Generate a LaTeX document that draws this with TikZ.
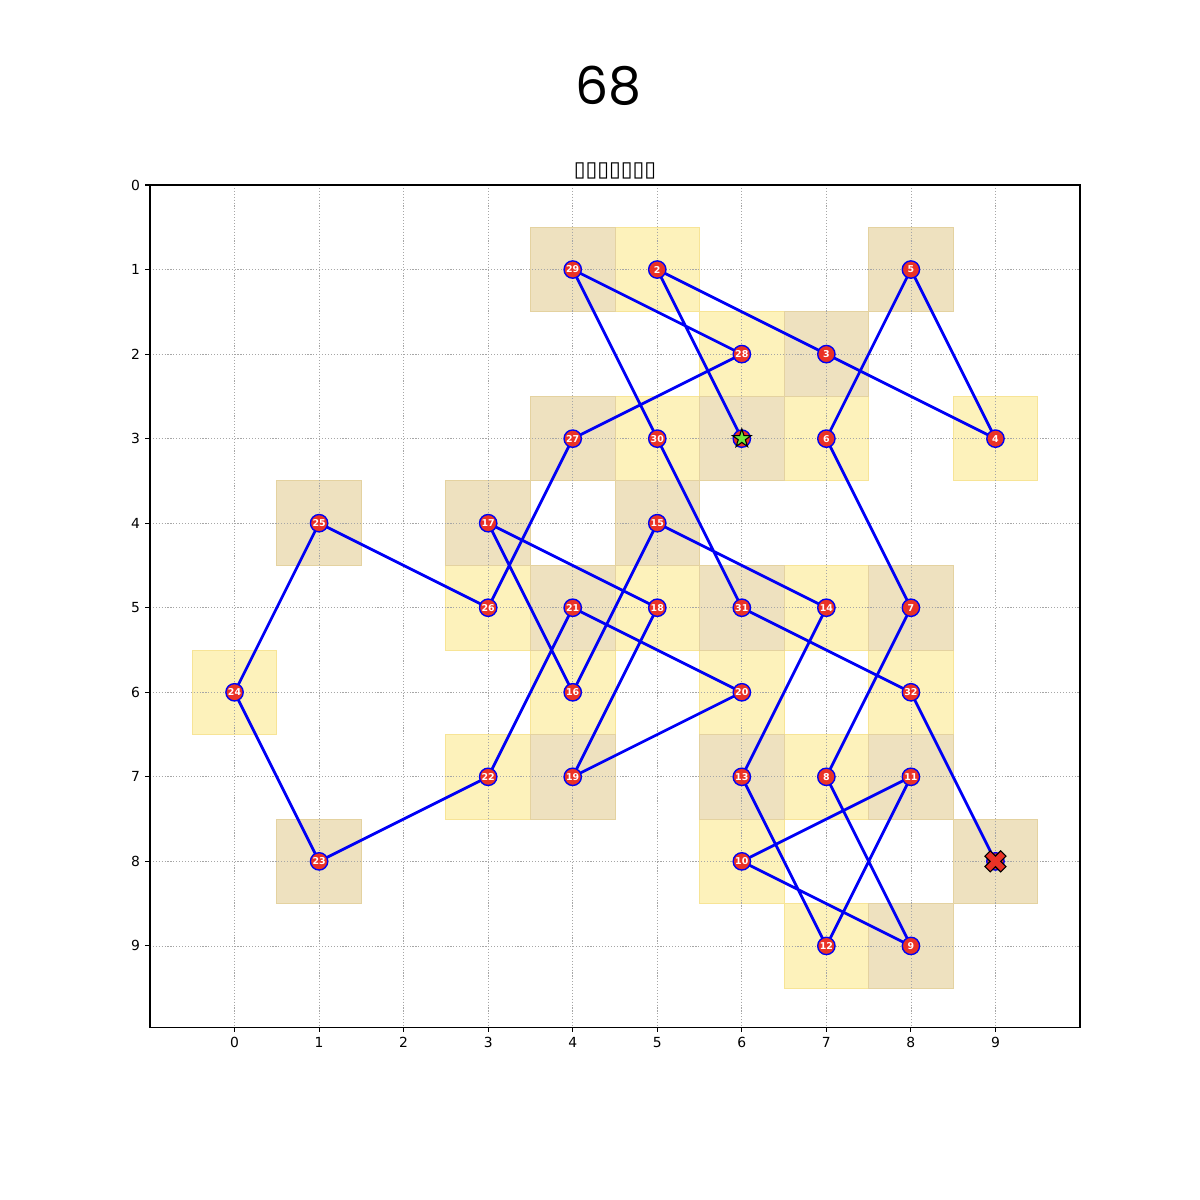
\documentclass[tikz,border=0pt]{standalone}
\usepackage{fontspec}
\setmainfont{DejaVu Sans}
\newfontfamily\titlefont{Poppins}
\usetikzlibrary{shapes.geometric}
\pgfdeclarelayer{cells}
\pgfdeclarelayer{routes}
\pgfsetlayers{cells,routes,main}
\definecolor{ycell}{RGB}{253,242,187}
\definecolor{yedge}{RGB}{247,228,150}
\definecolor{tcell}{RGB}{238,225,191}
\definecolor{tedge}{RGB}{228,210,160}
\definecolor{mred}{RGB}{234,50,38}
\definecolor{mblue}{RGB}{0,0,245}
\definecolor{sgreen}{RGB}{110,232,60}
\begin{document}
\begin{tikzpicture}[x=60.873pt,y=-60.873pt,
  ycellst/.style={fill=ycell,draw=yedge,line width=0.6pt},
  tcellst/.style={fill=tcell,draw=tedge,line width=0.6pt},
  gridline/.style={draw=black!35,line width=0.5pt,dash pattern=on 0.8pt off 1.3pt},
  route/.style={draw=mblue,line width=2pt},
  spot/.style={circle,fill=mred,draw=mblue,line width=1pt,minimum size=12.5pt,inner sep=0pt,text=white,font=\bfseries\fontsize{6.8}{6.8}\selectfont},
  ticklab/.style={font=\fontsize{10}{10}\selectfont,inner sep=0pt},
  tickmark/.style={draw=black,line width=0.8pt},
  startmark/.style={star,star points=5,star point ratio=2.618,minimum size=14pt,inner sep=0pt,fill=sgreen,draw=black,line width=0.8pt}
]
\useasboundingbox (-2.7742,-2.1882) rectangle (11.4194,12.0054);

% title
\node[font=\titlefont\fontsize{37.5}{37.5}\selectfont,inner sep=0pt] (title) at (4.421,-1.171) {68};
\node[font=\fontsize{15.4}{15.4}\selectfont,inner sep=0pt] (subtitle) at (4.5,-0.162) {▯▯▯▯▯▯▯};

% cells and grid
\begin{pgfonlayer}{cells}
\foreach \x/\y in {5/1,6/2,5/3,7/3,9/3,3/5,5/5,7/5,0/6,4/6,6/6,8/6,3/7,7/7,6/8,7/9}
  \path[ycellst] (\x-0.5,\y-0.5) rectangle (\x+0.5,\y+0.5);
\foreach \x/\y in {4/1,8/1,7/2,4/3,6/3,1/4,3/4,5/4,4/5,6/5,8/5,4/7,6/7,8/7,1/8,9/8,8/9}
  \path[tcellst] (\x-0.5,\y-0.5) rectangle (\x+0.5,\y+0.5);
\foreach \k in {0,...,9} {
  \draw[gridline] (\k,0) -- (\k,9.963);
  \draw[gridline] (-1,\k) -- (10,\k);
}
\end{pgfonlayer}

% waypoints
\node[spot] (n1) at (6,3) {};
\node[spot] (n2) at (5,1) {2};
\node[spot] (n3) at (7,2) {3};
\node[spot] (n4) at (9,3) {4};
\node[spot] (n5) at (8,1) {5};
\node[spot] (n6) at (7,3) {6};
\node[spot] (n7) at (8,5) {7};
\node[spot] (n8) at (7,7) {8};
\node[spot] (n9) at (8,9) {9};
\node[spot] (n10) at (6,8) {10};
\node[spot] (n11) at (8,7) {11};
\node[spot] (n12) at (7,9) {12};
\node[spot] (n13) at (6,7) {13};
\node[spot] (n14) at (7,5) {14};
\node[spot] (n15) at (5,4) {15};
\node[spot] (n16) at (4,6) {16};
\node[spot] (n17) at (3,4) {17};
\node[spot] (n18) at (5,5) {18};
\node[spot] (n19) at (4,7) {19};
\node[spot] (n20) at (6,6) {20};
\node[spot] (n21) at (4,5) {21};
\node[spot] (n22) at (3,7) {22};
\node[spot] (n23) at (1,8) {23};
\node[spot] (n24) at (0,6) {24};
\node[spot] (n25) at (1,4) {25};
\node[spot] (n26) at (3,5) {26};
\node[spot] (n27) at (4,3) {27};
\node[spot] (n28) at (6,2) {28};
\node[spot] (n29) at (4,1) {29};
\node[spot] (n30) at (5,3) {30};
\node[spot] (n31) at (6,5) {31};
\node[spot] (n32) at (8,6) {32};
\node[spot] (n33) at (9,8) {};

% route
\begin{pgfonlayer}{routes}
\draw[route,line join=round] (n1.center) foreach \i in {2,...,33} { -- (n\i.center) };
\end{pgfonlayer}

% start and end markers
\node[startmark] (start) at (n1.center) {};
\fill[mred,draw=black,line width=0.8pt,shift={(n33.center)},rotate=45]
  (-2.7pt,-8pt) -- (2.7pt,-8pt) -- (2.7pt,-2.7pt) -- (8pt,-2.7pt) -- (8pt,2.7pt) -- (2.7pt,2.7pt)
  -- (2.7pt,8pt) -- (-2.7pt,8pt) -- (-2.7pt,2.7pt) -- (-8pt,2.7pt) -- (-8pt,-2.7pt) -- (-2.7pt,-2.7pt) -- cycle;

% axes frame and ticks
\draw[line width=0.8pt] (-1,0) rectangle (10,9.963);
\foreach \k in {0,...,9} {
  \draw[tickmark] (\k,9.963) -- (\k,10.0205);
  \node[ticklab,anchor=north] (xt\k) at (\k,10.078) {\k};
  \draw[tickmark] (-1,\k) -- (-1.0575,\k);
  \node[ticklab,anchor=east] (yt\k) at (-1.115,\k) {\k};
}
\end{tikzpicture}
\end{document}
